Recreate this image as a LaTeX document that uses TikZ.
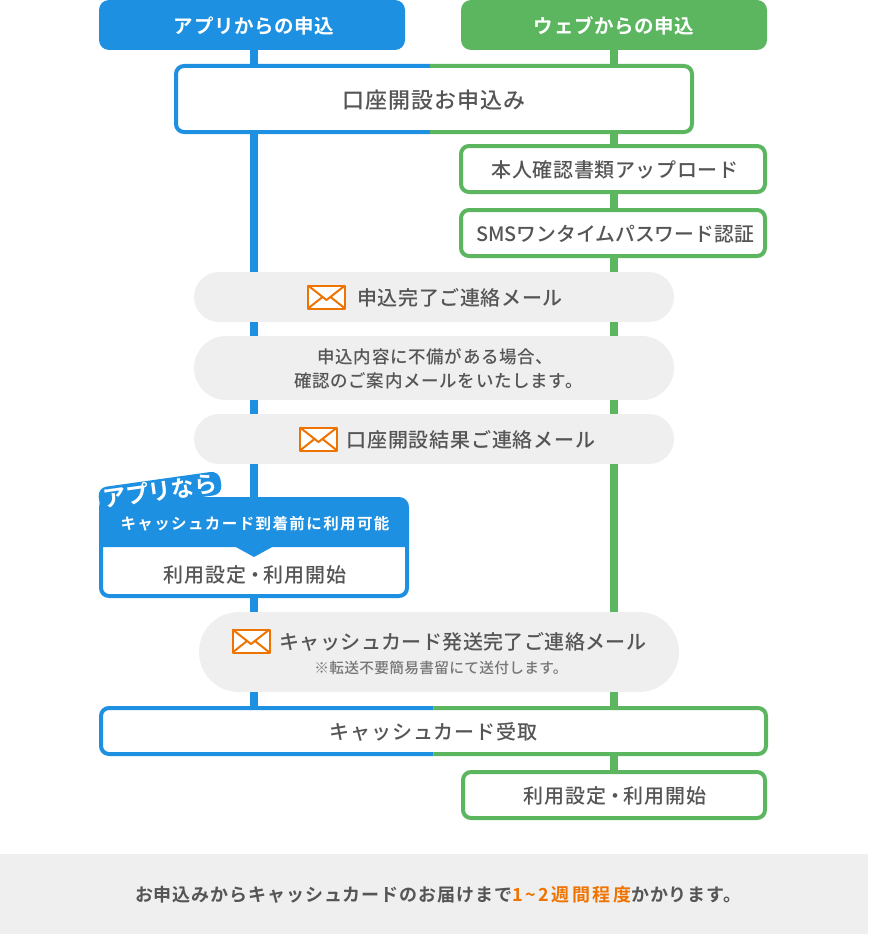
\documentclass[tikz,border=0pt]{standalone}
\usepackage{fontspec}
\setmainfont{Noto Sans CJK JP Medium}[BoldFont={Noto Sans CJK JP Bold}]
\usepackage{xcolor}
\usetikzlibrary{calc}
\definecolor{appblue}{HTML}{1E90E2}
\definecolor{webgreen}{HTML}{5CB660}
\definecolor{pillgray}{HTML}{EFEFEF}
\definecolor{ink}{HTML}{555555}
\definecolor{muted}{HTML}{777777}
\definecolor{mailorange}{HTML}{EF7300}
\newcommand{\jpsize}[2]{\fontsize{#1}{#1}\selectfont\addfontfeature{LetterSpace=#2}}
\newcommand{\tightdot}{\kern-1.5pt・\kern-1.5pt}
\tikzset{
  head/.style={text=white, font=\jpsize{19.5}{3}\bfseries, rounded corners=10, minimum width=306, minimum height=50, inner sep=0, outer sep=0, text depth=0pt},
  link/.style={line width=8, line cap=butt},
  bluelink/.style={link, draw=appblue},
  greenlink/.style={link, draw=webgreen},
  framed/.style={fill=white, text=ink, rounded corners=8, line width=4, inner sep=0, outer sep=0, text depth=0pt, font=\jpsize{20}{3}},
  split/.style={line width=4, rounded corners=8},
  pill/.style={fill=pillgray, text=ink, rounded corners=25, minimum width=480, inner sep=0, outer sep=0, text depth=0pt, font=\jpsize{20}{3}},
  envelope/.pic={
    \draw[draw=mailorange, fill=white, line width=2, line join=round] (-18.5,-11.5) rectangle (18.5,11.5);
    \draw[draw=mailorange, line width=2, line join=round] (-18.5,-11.5) -- (0,3) -- (18.5,-11.5);
    \draw[draw=mailorange, line width=2] (-18.5,11.5) -- (-4,0) (18.5,11.5) -- (4,0);
  },
}
\begin{document}
\begin{tikzpicture}[x=1pt,y=-1pt]
  \useasboundingbox (0,0) rectangle (868,934);
  \coordinate (bluex) at (254,0);
  \coordinate (greenx) at (614,0);
  % top of the two columns
  \node[head, fill=appblue] (app) at (252,25) {\hspace*{4pt}アプリからの申込};
  \node[head, fill=webgreen] (web) at (614,25) {ウェブからの申込};
  \node[minimum width=516, minimum height=66, fill=white, inner sep=0, outer sep=0, text=ink, text depth=0pt, font=\jpsize{22}{4.5}] (open) at (434,99) {口座開設お申込み};
  \coordinate (opensplit) at (430,0);
  \draw[split, draw=appblue] (open.north -| opensplit) -| (open.south west) -- (open.south -| opensplit);
  \draw[split, draw=webgreen] (open.north -| opensplit) -| (open.south east) -- (open.south -| opensplit);
  \node[framed, draw=webgreen, minimum width=304, minimum height=46] (upload) at (613,169) {\hspace*{4pt}本人確認書類アップロード};
  \node[framed, draw=webgreen, minimum width=304, minimum height=46, font=\jpsize{19.8}{0}] (sms) at (613,233) {\hspace*{4pt}SMSワンタイムパスワード認証};
  % mail steps
  \node[pill, minimum height=50] (mailone) at (434,297) {\hspace*{52pt}申込完了ご連絡メール};
  \pic at (326.5,297) {envelope};
  \node[pill, minimum height=64, rounded corners=32, align=center, font=\jpsize{17.5}{4}] (notice) at (434,368) {\hspace*{3pt}申込内容に不備がある場合、\\[6pt]\hspace*{9pt}確認のご案内メールをいたします。};
  \node[pill, minimum height=50, font=\jpsize{20}{4}] (mailtwo) at (434,439) {\hspace*{74pt}口座開設結果ご連絡メール};
  \pic at (318.5,439) {envelope};
  % app card
  \node[framed, draw=appblue, minimum width=306, minimum height=97] (card) at (254,547.5) {};
  \fill[appblue] (101,547) [rounded corners=8] -- (101,499) -- (407,499) [sharp corners] -- (407,547) -- cycle;
  \fill[appblue] (234,546) -- (274,546) -- (254,557) -- cycle;
  \node[text=white, inner sep=0, font=\jpsize{15.5}{9}\bfseries] (cardhead) at (255,524) {キャッシュカード到着前に利用可能};
  \node[text=ink, inner sep=0, font=\jpsize{20}{5}] (cardtext) at (255,575) {利用設定\tightdot 利用開始};
  \node[fill=appblue, text=white, rounded corners=9, rotate=8, inner xsep=4, inner ysep=1, font=\jpsize{23}{0}\bfseries] (onlyapp) at (160,491) {アプリなら};
  % card posted
  \node[pill, minimum height=80, rounded corners=40] (mailthree) at (439,652) {};
  \pic at (251,641) {envelope};
  \node[text=ink, inner sep=0, font=\jpsize{20}{2}] (posted) at (463,642) {キャッシュカード発送完了ご連絡メール};
  \node[text=muted, inner sep=0, font=\jpsize{14.7}{2}] (postednote) at (441,668) {※転送不要簡易書留にて送付します。};
  \node[minimum width=665, minimum height=46, fill=white, inner sep=0, outer sep=0, text=ink, text depth=0pt, font=\jpsize{20}{4}] (recv) at (433.5,731) {キャッシュカード受取};
  \draw[split, draw=appblue] (recv.north) -| (recv.south west) -- (recv.south);
  \draw[split, draw=webgreen] (recv.north) -| (recv.south east) -- (recv.south);
  \node[framed, draw=webgreen, minimum width=302, minimum height=46, font=\jpsize{20}{5}] (final) at (614,795) {\hspace*{2pt}利用設定\tightdot 利用開始};
  % footer band
  \fill[pillgray] (0,854) rectangle (868,934);
  \node[text=ink, inner sep=0, font=\jpsize{18}{5}\bfseries] (lead) at (438.5,895) {お申込みからキャッシュカードのお届けまで\textcolor{mailorange}{\addfontfeature{LetterSpace=14}1\textasciitilde 2週間程度}かかります。};
  % connectors
  \foreach \A/\B in {app/open,open/mailone,mailone/notice,notice/mailtwo,mailtwo/card,card/mailthree,mailthree/recv}
    \draw[bluelink] (\A.south -| bluex) -- (\B.north -| bluex);
  \foreach \A/\B in {web/open,open/upload,upload/sms,sms/mailone,mailone/notice,notice/mailtwo,mailtwo/mailthree,mailthree/recv,recv/final}
    \draw[greenlink] (\A.south -| greenx) -- (\B.north -| greenx);
\end{tikzpicture}
\end{document}
